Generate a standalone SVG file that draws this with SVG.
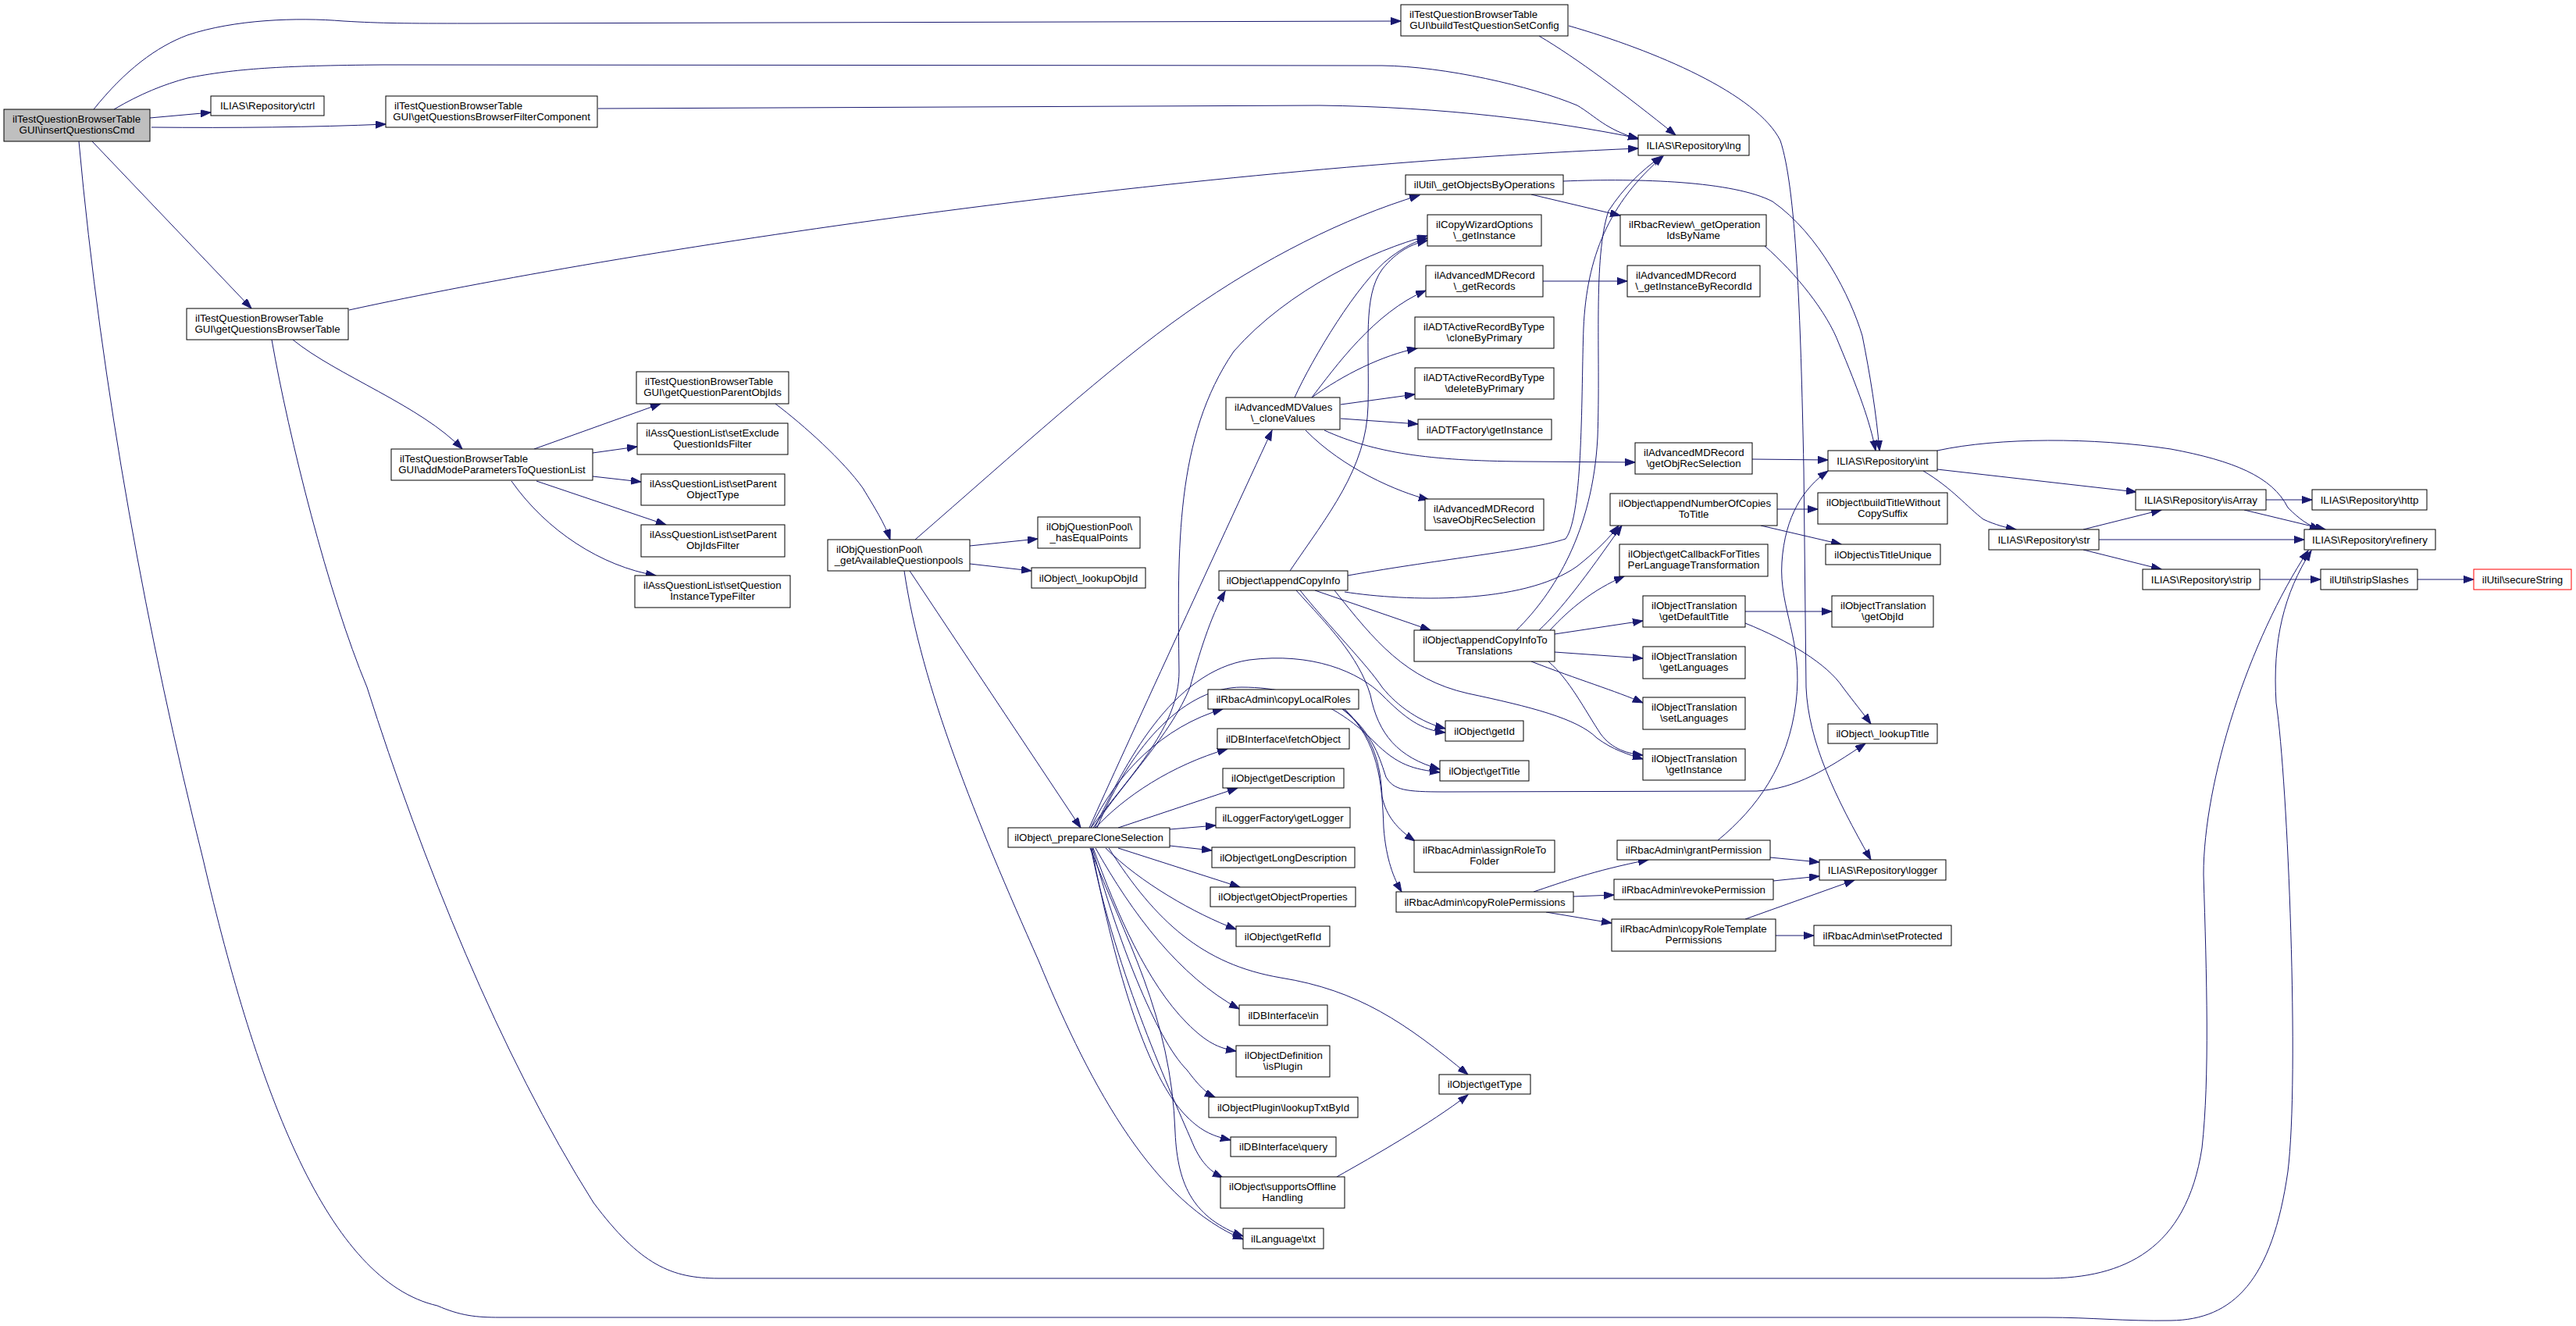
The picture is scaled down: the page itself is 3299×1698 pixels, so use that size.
<svg xmlns="http://www.w3.org/2000/svg" width="3299" height="1698" viewBox="0 0 3299 1698">
<style>
.node rect{fill:#ffffff;stroke:#000000;stroke-width:1}
.node rect.hl{fill:#bfbfbf}
.node rect.red{stroke:#ff0000}
text{font-family:"Liberation Sans",Arial,Helvetica,sans-serif;font-size:13.3px;fill:#000000}
text.c{text-anchor:middle}
#edges path{fill:none;stroke:#191970;stroke-width:1;marker-end:url(#arr)}
</style>
<defs>
<marker id="arr" markerUnits="userSpaceOnUse" markerWidth="14" markerHeight="10" refX="13" refY="4.6" orient="auto">
<path d="M0,0 L13,4.6 L0,9.2 z" fill="#191970" stroke="#191970" stroke-width="1"/>
</marker>
</defs>
<rect x="0" y="0" width="3299" height="1698" fill="#ffffff"/>
<g id="edges">
<path d="M120,140 C160,90 200,60 240,45 C300,25 380,22 440,27 C490,30 520,30 600,30 L1794,27"/>
<path d="M146,140 C180,120 210,108 240,100 C300,88 360,84 490,83 L1770,84 C1850,85 1960,110 2020,135 C2045,150 2055,165 2098,178"/>
<path d="M192,151 L270,144"/>
<path d="M194,163 C300,164 400,163 494,159"/>
<path d="M118,181 L322,395"/>
<path d="M101,181 C130,500 190,820 260,1100 C330,1400 420,1640 560,1672 C590,1685 610,1687 640,1687 L2620,1687 C2680,1687 2720,1692 2780,1691 C2860,1690 2910,1640 2930,1500 C2945,1380 2930,1000 2915,900 C2910,820 2925,760 2960,705"/>
<path d="M348,435 C370,560 420,760 470,880 C540,1100 640,1350 760,1540 C820,1620 860,1637 920,1637 L2620,1637 C2720,1637 2800,1600 2820,1470 C2830,1380 2826,1250 2822,1120 C2822,1000 2880,820 2956,705"/>
<path d="M447,397 C800,320 1500,215 2098,190"/>
<path d="M375,435 C430,480 540,520 592,575"/>
<path d="M766,139 L1690,135 C1850,137 1990,155 2098,177"/>
<path d="M1971,46 C2020,75 2080,120 2146,173"/>
<path d="M2009,33 C2120,65 2250,120 2280,180 C2300,240 2306,400 2310,600 L2313,880 C2316,950 2350,1020 2396,1101"/>
<path d="M1961,249 L2075,276"/>
<path d="M2002,232 C2100,228 2220,232 2270,258 C2330,300 2370,380 2385,430 C2395,480 2403,530 2407,577"/>
<path d="M2260,315 C2300,350 2340,400 2355,440 C2380,500 2395,540 2402,577"/>
<path d="M1658,509 C1680,460 1740,360 1780,330 C1800,315 1815,308 1828,305"/>
<path d="M1652,731 C1700,660 1750,600 1752,520 C1754,440 1745,380 1770,345 C1790,320 1810,312 1828,308"/>
<path d="M1397,1060 C1450,990 1510,930 1510,860 C1508,700 1505,560 1580,450 C1650,370 1760,320 1828,302"/>
<path d="M1395,1060 C1440,960 1560,700 1629,551"/>
<path d="M1400,1060 C1440,1000 1500,940 1524,880 C1535,840 1550,790 1569,757"/>
<path d="M1172,691 C1300,580 1420,470 1520,400 C1620,330 1720,280 1818,250"/>
<path d="M1242,699 L1329,690"/>
<path d="M1242,722 L1321,731"/>
<path d="M1158,731 C1180,880 1250,1050 1330,1230 C1400,1400 1480,1540 1592,1587"/>
<path d="M1165,731 L1384,1060"/>
<path d="M993,517 C1030,545 1080,590 1105,625 C1120,650 1133,670 1140,691"/>
<path d="M684,575 L846,517"/>
<path d="M759,580 L816,572"/>
<path d="M759,610 L821,617"/>
<path d="M687,616 L853,672"/>
<path d="M655,616 C700,680 770,725 840,737"/>
<path d="M1680,509 C1710,470 1760,400 1826,372"/>
<path d="M1680,509 C1720,480 1770,455 1815,446"/>
<path d="M1717,518 L1812,505"/>
<path d="M1717,536 L1816,543"/>
<path d="M1696,551 C1760,580 1830,590 1950,591 L2094,592"/>
<path d="M1672,551 C1720,600 1790,630 1830,640"/>
<path d="M1976,360 L2084,360"/>
<path d="M2244,588 L2341,589"/>
<path d="M1726,737 C1850,715 1960,705 2005,690 C2028,660 2025,500 2028,420 C2032,330 2060,260 2130,200"/>
<path d="M1942,807 C1990,760 2040,680 2046,560 C2050,450 2040,330 2060,270 C2080,240 2100,220 2128,200"/>
<path d="M1722,758 C1800,770 1950,775 2020,725 C2045,705 2060,690 2073,673"/>
<path d="M1971,807 C2000,780 2030,740 2077,673"/>
<path d="M1985,807 C2010,780 2040,755 2080,738"/>
<path d="M1991,812 L2104,795"/>
<path d="M1991,835 L2104,843"/>
<path d="M1961,847 C2020,870 2070,885 2104,900"/>
<path d="M1983,847 C2010,870 2030,910 2050,940 C2065,960 2085,965 2104,967"/>
<path d="M1709,756 C1760,820 1800,870 1880,888 C1960,905 2020,920 2045,945 C2065,960 2085,966 2104,972"/>
<path d="M1684,756 L1832,807"/>
<path d="M1665,756 C1700,800 1750,850 1770,880 C1790,905 1820,925 1851,933"/>
<path d="M1660,756 C1700,800 1740,840 1755,890 C1765,940 1790,970 1844,985"/>
<path d="M1402,1060 C1440,980 1500,860 1600,845 C1680,835 1740,860 1770,890 C1800,920 1820,935 1851,938"/>
<path d="M1405,1060 C1450,950 1520,880 1590,880 C1680,880 1730,920 1760,950 C1790,980 1810,985 1844,989"/>
<path d="M1719,908 C1760,940 1768,980 1770,1020 C1775,1045 1790,1062 1812,1077"/>
<path d="M1722,908 C1765,950 1770,1000 1772,1060 C1775,1100 1785,1125 1795,1142"/>
<path d="M1720,908 C1760,940 1768,975 1775,995 C1785,1012 1800,1014 1850,1014 L2250,1013 C2300,1010 2340,985 2389,952"/>
<path d="M1397,1060 C1430,990 1490,930 1566,908"/>
<path d="M1403,1060 C1440,1020 1500,980 1572,959"/>
<path d="M1432,1060 L1585,1009"/>
<path d="M1498,1062 L1557,1057"/>
<path d="M1498,1083 L1552,1089"/>
<path d="M1432,1086 L1588,1136"/>
<path d="M1416,1086 C1460,1130 1530,1170 1583,1190"/>
<path d="M1403,1086 C1450,1170 1510,1250 1587,1292"/>
<path d="M1400,1086 C1430,1170 1470,1260 1520,1310 C1545,1335 1560,1342 1583,1346"/>
<path d="M1399,1086 C1430,1200 1480,1330 1520,1370 C1535,1390 1545,1400 1556,1405"/>
<path d="M1398,1086 C1430,1250 1470,1380 1520,1430 C1540,1450 1555,1455 1576,1460"/>
<path d="M1397,1086 C1430,1250 1500,1400 1530,1470 C1540,1490 1550,1500 1566,1508"/>
<path d="M1396,1086 C1440,1200 1500,1300 1505,1450 C1508,1520 1530,1560 1592,1583"/>
<path d="M1420,1086 C1480,1180 1540,1235 1640,1252 C1740,1268 1800,1310 1880,1376"/>
<path d="M1712,1507 C1760,1480 1830,1440 1880,1402"/>
<path d="M1964,1142 C2000,1130 2040,1115 2111,1101"/>
<path d="M2015,1148 L2067,1146"/>
<path d="M1980,1168 L2064,1182"/>
<path d="M2267,1098 L2330,1104"/>
<path d="M2271,1128 L2330,1122"/>
<path d="M2235,1177 L2375,1127"/>
<path d="M2274,1198 L2323,1198"/>
<path d="M2200,1076 C2250,1035 2290,980 2300,900 C2310,820 2278,780 2282,720 C2286,660 2310,625 2341,603"/>
<path d="M2235,783 L2346,783"/>
<path d="M2235,798 C2290,820 2340,850 2360,880 C2375,900 2385,912 2396,927"/>
<path d="M2276,652 L2328,652"/>
<path d="M2255,673 L2358,697"/>
<path d="M2481,601 L2736,630"/>
<path d="M2463,603 C2500,625 2520,650 2540,665 C2555,672 2570,676 2582,678"/>
<path d="M2481,577 C2560,560 2680,560 2780,575 C2860,590 2910,610 2930,650 C2945,665 2955,672 2971,678"/>
<path d="M2902,640 L2961,640"/>
<path d="M2874,653 L2978,678"/>
<path d="M2668,678 L2768,653"/>
<path d="M2688,691 L2951,691"/>
<path d="M2668,704 L2768,729"/>
<path d="M2894,742 L2972,742"/>
<path d="M3096,742 L3168,742"/>
</g>
<g id="n-main" class="node"><rect class="hl" x="5" y="140" width="187" height="41"/><text x="16" y="157">ilTestQuestionBrowserTable</text><text class="c" x="98.5" y="171">GUI\insertQuestionsCmd</text></g>
<g id="n-ctrl" class="node"><rect x="270" y="123" width="145" height="25"/><text class="c" x="342.5" y="140">ILIAS\Repository\ctrl</text></g>
<g id="n-filterComp" class="node"><rect x="494" y="123" width="271" height="40"/><text x="505" y="139.5">ilTestQuestionBrowserTable</text><text class="c" x="629.5" y="153.5">GUI\getQuestionsBrowserFilterComponent</text></g>
<g id="n-browserTable" class="node"><rect x="239" y="395" width="207" height="40"/><text x="250" y="411.5">ilTestQuestionBrowserTable</text><text class="c" x="342.5" y="425.5">GUI\getQuestionsBrowserTable</text></g>
<g id="n-addMode" class="node"><rect x="501" y="575" width="258" height="40"/><text x="512" y="591.5">ilTestQuestionBrowserTable</text><text class="c" x="630" y="605.5">GUI\addModeParametersToQuestionList</text></g>
<g id="n-getParentObjIds" class="node"><rect x="815" y="476" width="195" height="41"/><text x="826" y="493">ilTestQuestionBrowserTable</text><text class="c" x="912.5" y="507">GUI\getQuestionParentObjIds</text></g>
<g id="n-setExclude" class="node"><rect x="816" y="542" width="193" height="40"/><text x="827" y="558.5">ilAssQuestionList\setExclude</text><text class="c" x="912.5" y="572.5">QuestionIdsFilter</text></g>
<g id="n-setParentObjectType" class="node"><rect x="821" y="607" width="184" height="40"/><text x="832" y="623.5">ilAssQuestionList\setParent</text><text class="c" x="913" y="637.5">ObjectType</text></g>
<g id="n-setParentObjIdsFilter" class="node"><rect x="821" y="672" width="184" height="41"/><text x="832" y="689">ilAssQuestionList\setParent</text><text class="c" x="913" y="703">ObjIdsFilter</text></g>
<g id="n-setQuestionInstanceTypeFilter" class="node"><rect x="813" y="737" width="199" height="41"/><text x="824" y="754">ilAssQuestionList\setQuestion</text><text class="c" x="912.5" y="768">InstanceTypeFilter</text></g>
<g id="n-getAvailableQuestionpools" class="node"><rect x="1060" y="691" width="182" height="40"/><text x="1071" y="707.5">ilObjQuestionPool\</text><text class="c" x="1151" y="721.5">_getAvailableQuestionpools</text></g>
<g id="n-hasEqualPoints" class="node"><rect x="1329" y="662" width="131" height="40"/><text x="1340" y="678.5">ilObjQuestionPool\</text><text class="c" x="1394.5" y="692.5">_hasEqualPoints</text></g>
<g id="n-lookupObjId" class="node"><rect x="1321" y="727" width="146" height="26"/><text class="c" x="1394" y="744.5">ilObject\_lookupObjId</text></g>
<g id="n-prepareCloneSelection" class="node"><rect x="1291" y="1060" width="207" height="25"/><text class="c" x="1394.5" y="1077">ilObject\_prepareCloneSelection</text></g>
<g id="n-buildTestQuestionSetConfig" class="node"><rect x="1794" y="6" width="214" height="40"/><text x="1805" y="22.5">ilTestQuestionBrowserTable</text><text class="c" x="1901" y="36.5">GUI\buildTestQuestionSetConfig</text></g>
<g id="n-lng" class="node"><rect x="2098" y="173" width="142" height="26"/><text class="c" x="2169" y="190.5">ILIAS\Repository\lng</text></g>
<g id="n-getObjectsByOperations" class="node"><rect x="1800" y="224" width="202" height="25"/><text class="c" x="1901" y="241">ilUtil\_getObjectsByOperations</text></g>
<g id="n-copyWizardGetInstance" class="node"><rect x="1828" y="275" width="146" height="40"/><text x="1839" y="291.5">ilCopyWizardOptions</text><text class="c" x="1901" y="305.5">\_getInstance</text></g>
<g id="n-getOperationIdsByName" class="node"><rect x="2075" y="275" width="187" height="40"/><text x="2086" y="291.5">ilRbacReview\_getOperation</text><text class="c" x="2168.5" y="305.5">IdsByName</text></g>
<g id="n-getRecords" class="node"><rect x="1826" y="340" width="150" height="40"/><text x="1837" y="356.5">ilAdvancedMDRecord</text><text class="c" x="1901" y="370.5">\_getRecords</text></g>
<g id="n-getInstanceByRecordId" class="node"><rect x="2084" y="340" width="170" height="40"/><text x="2095" y="356.5">ilAdvancedMDRecord</text><text class="c" x="2169" y="370.5">\_getInstanceByRecordId</text></g>
<g id="n-cloneByPrimary" class="node"><rect x="1812" y="406" width="178" height="40"/><text x="1823" y="422.5">ilADTActiveRecordByType</text><text class="c" x="1901" y="436.5">\cloneByPrimary</text></g>
<g id="n-deleteByPrimary" class="node"><rect x="1812" y="471" width="178" height="40"/><text x="1823" y="487.5">ilADTActiveRecordByType</text><text class="c" x="1901" y="501.5">\deleteByPrimary</text></g>
<g id="n-adtFactoryGetInstance" class="node"><rect x="1816" y="537" width="171" height="26"/><text class="c" x="1901.5" y="554.5">ilADTFactory\getInstance</text></g>
<g id="n-cloneValues" class="node"><rect x="1570" y="509" width="146" height="41"/><text x="1581" y="526">ilAdvancedMDValues</text><text class="c" x="1643" y="540">\_cloneValues</text></g>
<g id="n-getObjRecSelection" class="node"><rect x="2094" y="567" width="150" height="40"/><text x="2105" y="583.5">ilAdvancedMDRecord</text><text class="c" x="2169" y="597.5">\getObjRecSelection</text></g>
<g id="n-saveObjRecSelection" class="node"><rect x="1825" y="639" width="152" height="40"/><text x="1836" y="655.5">ilAdvancedMDRecord</text><text class="c" x="1901" y="669.5">\saveObjRecSelection</text></g>
<g id="n-int" class="node"><rect x="2341" y="577" width="140" height="26"/><text class="c" x="2411" y="594.5">ILIAS\Repository\int</text></g>
<g id="n-appendNumberOfCopiesToTitle" class="node"><rect x="2062" y="632" width="214" height="41"/><text x="2073" y="649">ilObject\appendNumberOfCopies</text><text class="c" x="2169" y="663">ToTitle</text></g>
<g id="n-buildTitleWithoutCopySuffix" class="node"><rect x="2328" y="631" width="166" height="40"/><text x="2339" y="647.5">ilObject\buildTitleWithout</text><text class="c" x="2411" y="661.5">CopySuffix</text></g>
<g id="n-isTitleUnique" class="node"><rect x="2338" y="697" width="147" height="26"/><text class="c" x="2411.5" y="714.5">ilObject\isTitleUnique</text></g>
<g id="n-getCallback" class="node"><rect x="2074" y="697" width="190" height="41"/><text x="2085" y="714">ilObject\getCallbackForTitles</text><text class="c" x="2169" y="728">PerLanguageTransformation</text></g>
<g id="n-isArray" class="node"><rect x="2735" y="627" width="167" height="26"/><text class="c" x="2818.5" y="644.5">ILIAS\Repository\isArray</text></g>
<g id="n-http" class="node"><rect x="2961" y="627" width="147" height="26"/><text class="c" x="3034.5" y="644.5">ILIAS\Repository\http</text></g>
<g id="n-str" class="node"><rect x="2547" y="678" width="141" height="26"/><text class="c" x="2617.5" y="695.5">ILIAS\Repository\str</text></g>
<g id="n-refinery" class="node"><rect x="2951" y="678" width="168" height="26"/><text class="c" x="3035" y="695.5">ILIAS\Repository\refinery</text></g>
<g id="n-strip" class="node"><rect x="2744" y="729" width="150" height="26"/><text class="c" x="2819" y="746.5">ILIAS\Repository\strip</text></g>
<g id="n-stripSlashes" class="node"><rect x="2972" y="729" width="124" height="26"/><text class="c" x="3034" y="746.5">ilUtil\stripSlashes</text></g>
<g id="n-secureString" class="node"><rect class="red" x="3168" y="729" width="125" height="26"/><text class="c" x="3230.5" y="746.5">ilUtil\secureString</text></g>
<g id="n-getDefaultTitle" class="node"><rect x="2104" y="763" width="131" height="40"/><text x="2115" y="779.5">ilObjectTranslation</text><text class="c" x="2169.5" y="793.5">\getDefaultTitle</text></g>
<g id="n-getObjId" class="node"><rect x="2346" y="763" width="130" height="40"/><text x="2357" y="779.5">ilObjectTranslation</text><text class="c" x="2411" y="793.5">\getObjId</text></g>
<g id="n-appendCopyInfo" class="node"><rect x="1561" y="731" width="165" height="25"/><text class="c" x="1643.5" y="748">ilObject\appendCopyInfo</text></g>
<g id="n-appendCopyInfoToTranslations" class="node"><rect x="1811" y="807" width="180" height="40"/><text x="1822" y="823.5">ilObject\appendCopyInfoTo</text><text class="c" x="1901" y="837.5">Translations</text></g>
<g id="n-getLanguages" class="node"><rect x="2104" y="828" width="131" height="41"/><text x="2115" y="845">ilObjectTranslation</text><text class="c" x="2169.5" y="859">\getLanguages</text></g>
<g id="n-setLanguages" class="node"><rect x="2104" y="893" width="131" height="41"/><text x="2115" y="910">ilObjectTranslation</text><text class="c" x="2169.5" y="924">\setLanguages</text></g>
<g id="n-objectTranslationGetInstance" class="node"><rect x="2104" y="959" width="131" height="40"/><text x="2115" y="975.5">ilObjectTranslation</text><text class="c" x="2169.5" y="989.5">\getInstance</text></g>
<g id="n-getId" class="node"><rect x="1851" y="923" width="100" height="26"/><text class="c" x="1901" y="940.5">ilObject\getId</text></g>
<g id="n-getTitle" class="node"><rect x="1844" y="974" width="114" height="26"/><text class="c" x="1901" y="991.5">ilObject\getTitle</text></g>
<g id="n-lookupTitle" class="node"><rect x="2341" y="927" width="140" height="25"/><text class="c" x="2411" y="944">ilObject\_lookupTitle</text></g>
<g id="n-copyLocalRoles" class="node"><rect x="1547" y="883" width="193" height="25"/><text class="c" x="1643.5" y="900">ilRbacAdmin\copyLocalRoles</text></g>
<g id="n-fetchObject" class="node"><rect x="1559" y="933" width="169" height="26"/><text class="c" x="1643.5" y="950.5">ilDBInterface\fetchObject</text></g>
<g id="n-getDescription" class="node"><rect x="1566" y="984" width="155" height="25"/><text class="c" x="1643.5" y="1001">ilObject\getDescription</text></g>
<g id="n-getLogger" class="node"><rect x="1557" y="1034" width="172" height="26"/><text class="c" x="1643" y="1051.5">ilLoggerFactory\getLogger</text></g>
<g id="n-getLongDescription" class="node"><rect x="1552" y="1085" width="183" height="26"/><text class="c" x="1643.5" y="1102.5">ilObject\getLongDescription</text></g>
<g id="n-getObjectProperties" class="node"><rect x="1550" y="1136" width="186" height="25"/><text class="c" x="1643" y="1153">ilObject\getObjectProperties</text></g>
<g id="n-getRefId" class="node"><rect x="1583" y="1186" width="120" height="26"/><text class="c" x="1643" y="1203.5">ilObject\getRefId</text></g>
<g id="n-dbIn" class="node"><rect x="1587" y="1287" width="113" height="26"/><text class="c" x="1643.5" y="1304.5">ilDBInterface\in</text></g>
<g id="n-isPlugin" class="node"><rect x="1583" y="1339" width="120" height="40"/><text x="1594" y="1355.5">ilObjectDefinition</text><text class="c" x="1643" y="1369.5">\isPlugin</text></g>
<g id="n-lookupTxtById" class="node"><rect x="1548" y="1405" width="191" height="26"/><text class="c" x="1643.5" y="1422.5">ilObjectPlugin\lookupTxtById</text></g>
<g id="n-dbQuery" class="node"><rect x="1576" y="1456" width="135" height="25"/><text class="c" x="1643.5" y="1473">ilDBInterface\query</text></g>
<g id="n-supportsOfflineHandling" class="node"><rect x="1563" y="1507" width="159" height="40"/><text x="1574" y="1523.5">ilObject\supportsOffline</text><text class="c" x="1642.5" y="1537.5">Handling</text></g>
<g id="n-languageTxt" class="node"><rect x="1592" y="1573" width="103" height="26"/><text class="c" x="1643.5" y="1590.5">ilLanguage\txt</text></g>
<g id="n-getType" class="node"><rect x="1843" y="1376" width="117" height="25"/><text class="c" x="1901.5" y="1393">ilObject\getType</text></g>
<g id="n-assignRoleToFolder" class="node"><rect x="1811" y="1076" width="180" height="41"/><text x="1822" y="1093">ilRbacAdmin\assignRoleTo</text><text class="c" x="1901" y="1107">Folder</text></g>
<g id="n-copyRolePermissions" class="node"><rect x="1788" y="1142" width="227" height="26"/><text class="c" x="1901.5" y="1159.5">ilRbacAdmin\copyRolePermissions</text></g>
<g id="n-grantPermission" class="node"><rect x="2071" y="1076" width="196" height="25"/><text class="c" x="2169" y="1093">ilRbacAdmin\grantPermission</text></g>
<g id="n-revokePermission" class="node"><rect x="2067" y="1126" width="204" height="26"/><text class="c" x="2169" y="1143.5">ilRbacAdmin\revokePermission</text></g>
<g id="n-copyRoleTemplatePermissions" class="node"><rect x="2064" y="1177" width="210" height="41"/><text x="2075" y="1194">ilRbacAdmin\copyRoleTemplate</text><text class="c" x="2169" y="1208">Permissions</text></g>
<g id="n-logger" class="node"><rect x="2330" y="1101" width="162" height="26"/><text class="c" x="2411" y="1118.5">ILIAS\Repository\logger</text></g>
<g id="n-setProtected" class="node"><rect x="2323" y="1185" width="176" height="26"/><text class="c" x="2411" y="1202.5">ilRbacAdmin\setProtected</text></g>
</svg>
